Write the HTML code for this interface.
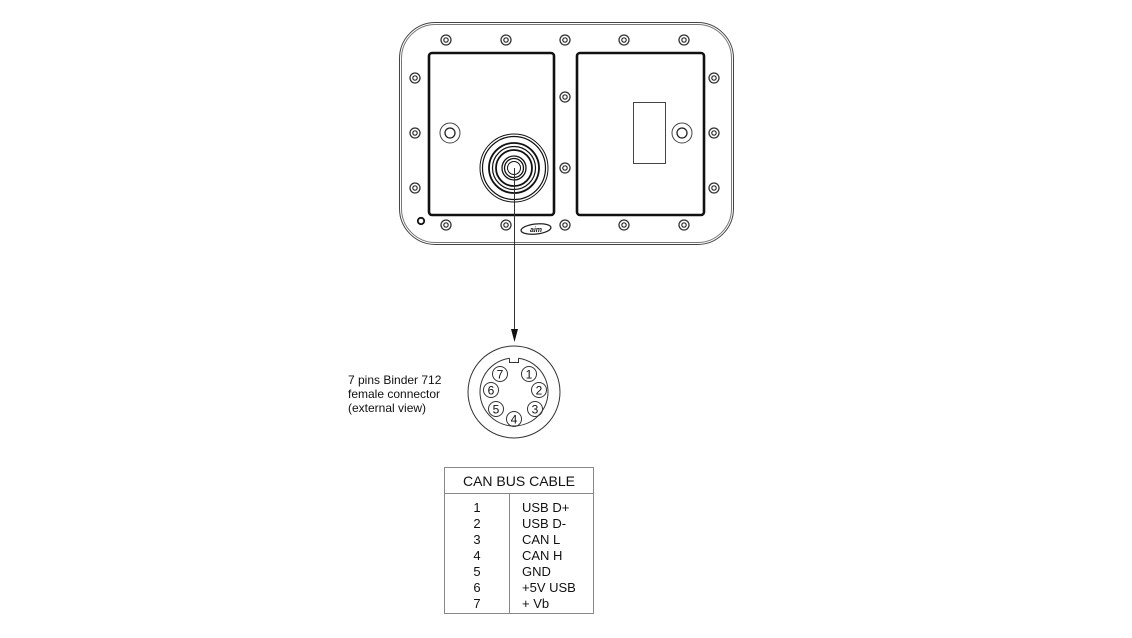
<!DOCTYPE html>
<html><head><meta charset="utf-8"><style>
html,body{margin:0;padding:0;background:#fff;}
svg{display:block;}
text{font-family:"Liberation Sans",Arial,sans-serif;fill:#111;}
</style></head><body>
<svg width="1132" height="638" viewBox="0 0 1132 638" xmlns="http://www.w3.org/2000/svg">
<defs>
<g id="sc"><circle r="5" fill="#fff" stroke="#333" stroke-width="1.3"/><circle r="2.2" fill="none" stroke="#333" stroke-width="1.2"/></g>
</defs>
<rect x="399.5" y="22.5" width="334" height="222" rx="36" fill="#fff" stroke="#444" stroke-width="1"/>
<rect x="401.5" y="24.5" width="330" height="218" rx="34" fill="none" stroke="#777" stroke-width="1"/>
<rect x="429" y="53" width="125" height="162" rx="3" fill="#fff" stroke="#111" stroke-width="2.6"/>
<rect x="577" y="53" width="127" height="162" rx="3" fill="#fff" stroke="#111" stroke-width="2.6"/>
<g>
<use href="#sc" x="446" y="40"/><use href="#sc" x="506" y="40"/><use href="#sc" x="565" y="40"/><use href="#sc" x="624" y="40"/><use href="#sc" x="684" y="40"/>
<use href="#sc" x="415" y="78"/><use href="#sc" x="415" y="133"/><use href="#sc" x="415" y="188"/>
<use href="#sc" x="714" y="78"/><use href="#sc" x="714" y="133"/><use href="#sc" x="714" y="188"/>
<use href="#sc" x="565" y="97"/><use href="#sc" x="565" y="168"/>
<use href="#sc" x="446" y="225"/><use href="#sc" x="506" y="225"/><use href="#sc" x="565" y="225"/><use href="#sc" x="624" y="225"/><use href="#sc" x="684" y="225"/>
</g>
<circle cx="421" cy="221" r="3.2" fill="#fff" stroke="#111" stroke-width="1.8"/>
<circle cx="450" cy="133" r="10" fill="none" stroke="#444" stroke-width="1"/>
<circle cx="450" cy="133" r="5" fill="none" stroke="#222" stroke-width="1.3"/>
<circle cx="682" cy="133" r="10" fill="none" stroke="#444" stroke-width="1"/>
<circle cx="682" cy="133" r="5" fill="none" stroke="#222" stroke-width="1.3"/>
<rect x="633.5" y="102.5" width="32" height="61" fill="none" stroke="#444" stroke-width="1"/>
<g fill="none" stroke="#111">
<circle cx="514" cy="168" r="34" stroke-width="1"/>
<circle cx="514" cy="168" r="31.5" stroke-width="1.2"/>
<circle cx="514" cy="168" r="25" stroke-width="1.8"/>
<circle cx="514" cy="168" r="21.5" stroke-width="1.2"/>
<circle cx="514" cy="168" r="18" stroke-width="1.8"/>
<circle cx="514" cy="168" r="12" stroke-width="1.3"/>
<circle cx="514" cy="168" r="9.5" stroke-width="1.3"/>
<circle cx="514" cy="168" r="6.5" stroke-width="1"/>
</g>
<ellipse cx="536" cy="229" rx="15" ry="5" fill="#fff" stroke="#222" stroke-width="1.3" transform="rotate(-6 536 229)"/>
<text x="536" y="232" font-size="7" font-style="italic" font-weight="bold" text-anchor="middle">aim</text>
<line x1="514.5" y1="168" x2="514.5" y2="330" stroke="#333" stroke-width="1"/>
<polygon points="511,329 518,329 514.5,342" fill="#111"/>
<circle cx="514" cy="392" r="46" fill="none" stroke="#333" stroke-width="1"/>
<path d="M 509.5 358.3 A 34 34 0 1 0 518.5 358.3" fill="none" stroke="#333" stroke-width="1"/>
<path d="M 509.5 358.3 L 509.5 362.5 L 518.5 362.5 L 518.5 358.3" fill="none" stroke="#333" stroke-width="1"/>
<g font-size="12" text-anchor="middle">
<circle cx="529" cy="374" r="7.5" fill="none" stroke="#333"/><text x="529" y="378.5">1</text>
<circle cx="539" cy="390" r="7.5" fill="none" stroke="#333"/><text x="539" y="394.5">2</text>
<circle cx="535" cy="409" r="7.5" fill="none" stroke="#333"/><text x="535" y="413.5">3</text>
<circle cx="514" cy="419" r="7.5" fill="none" stroke="#333"/><text x="514" y="423.5">4</text>
<circle cx="496" cy="409" r="7.5" fill="none" stroke="#333"/><text x="496" y="413.5">5</text>
<circle cx="491" cy="390" r="7.5" fill="none" stroke="#333"/><text x="491" y="394.5">6</text>
<circle cx="500" cy="374" r="7.5" fill="none" stroke="#333"/><text x="500" y="378.5">7</text>
</g>
<g font-size="12">
<text x="348" y="384">7 pins Binder 712</text>
<text x="348" y="398">female connector</text>
<text x="348" y="412">(external view)</text>
</g>
<rect x="444.5" y="467.5" width="149" height="146" fill="none" stroke="#888" stroke-width="1"/>
<line x1="444.5" y1="493.5" x2="593.5" y2="493.5" stroke="#888"/>
<line x1="509.5" y1="493.5" x2="509.5" y2="613.5" stroke="#888"/>
<text x="519" y="486" font-size="14" text-anchor="middle">CAN BUS CABLE</text>
<g font-size="13">
<g text-anchor="middle">
<text x="477" y="512">1</text><text x="477" y="528">2</text><text x="477" y="544">3</text><text x="477" y="560">4</text><text x="477" y="576">5</text><text x="477" y="592">6</text><text x="477" y="608">7</text>
</g>
<text x="522" y="512">USB D+</text><text x="522" y="528">USB D-</text><text x="522" y="544">CAN L</text><text x="522" y="560">CAN H</text><text x="522" y="576">GND</text><text x="522" y="592">+5V USB</text><text x="522" y="608">+ Vb</text>
</g>
</svg>
</body></html>
